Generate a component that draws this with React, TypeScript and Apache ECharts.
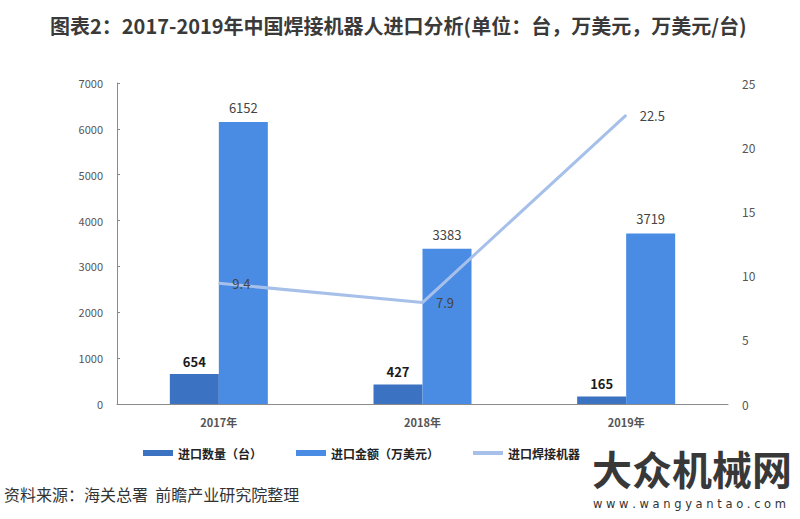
import React, { useEffect, useRef } from "react";
import * as echarts from "echarts";

const categories = ["2017年", "2018年", "2019年"];
const quantity = [654, 427, 165];
const amount = [6152, 3383, 3719];
const unitPrice = [9.4, 7.9, 22.5];
const leftTicks = [0, 7000, 1000];
const rightTicks = [0, 25, 5];
const seriesNames = ["进口数量（台）", "进口金额（万美元）", "进口焊接机器人单价（万美元/台）"];

const FONT = "'Noto Sans CJK SC', 'Noto Sans', sans-serif";

export default function App() {
  const ref = useRef<HTMLDivElement>(null);
  useEffect(() => {
    if (!ref.current) return;
    const chart = echarts.init(ref.current, null, { renderer: "svg" });
    chart.setOption({
      animation: false,
      backgroundColor: "#ffffff",
      textStyle: { fontFamily: FONT },
      grid: { left: 117, right: 72, top: 83, bottom: 115 },
      legend: {
        left: 138,
        top: 442,
        itemWidth: 30,
        itemHeight: 6,
        itemGap: 34,
        textStyle: { fontFamily: FONT, fontSize: 12, fontWeight: "bold", color: "#222" },
        data: [
          { name: seriesNames[0], icon: "rect" },
          { name: seriesNames[1], icon: "rect" },
          {
            name: seriesNames[2],
            icon: "path://M0,0 L30,0 L30,4 L0,4 Z",
            textStyle: { width: 76, overflow: "truncate", ellipsis: "" },
          },
        ],
      },
      xAxis: {
        type: "category",
        data: categories,
        axisLine: { lineStyle: { color: "#8a8a8a", width: 1 } },
        axisTick: { show: false },
        axisLabel: { color: "#555", fontSize: 11, fontWeight: "bold", margin: 12, fontFamily: FONT },
      },
      yAxis: [
        {
          type: "value",
          min: leftTicks[0],
          max: leftTicks[1],
          interval: leftTicks[2],
          axisLine: { show: true, lineStyle: { color: "#8a8a8a" } },
          axisTick: { show: true, inside: true, length: 3, lineStyle: { color: "#8a8a8a" } },
          splitLine: { show: false },
          axisLabel: { color: "#555", fontSize: 11, margin: 14, fontFamily: FONT, formatter: (v: number) => String(v) },
        },
        {
          type: "value",
          min: rightTicks[0],
          max: rightTicks[1],
          interval: rightTicks[2],
          axisLine: { show: false },
          axisTick: { show: false },
          splitLine: { show: false },
          axisLabel: { color: "#555", fontSize: 12, margin: 14, fontFamily: FONT },
        },
      ],
      series: [
        {
          name: seriesNames[0],
          type: "bar",
          data: quantity,
          barWidth: 49,
          barGap: "0%",
          itemStyle: { color: "#3b73c2" },
          label: { show: true, position: "top", distance: 6, color: "#1a1a1a", fontWeight: "bold", fontSize: 13, fontFamily: FONT },
        },
        {
          name: seriesNames[1],
          type: "bar",
          data: amount,
          barWidth: 49,
          barGap: "0%",
          itemStyle: { color: "#4a8ce3" },
          label: { show: true, position: "top", distance: 8, color: "#444", fontSize: 13, fontFamily: FONT },
        },
        {
          name: seriesNames[2],
          type: "line",
          yAxisIndex: 1,
          data: unitPrice,
          symbol: "circle",
          symbolSize: 1,
          showSymbol: true,
          lineStyle: { color: "#a6c0ea", width: 3 },
          itemStyle: { color: "#a6c0ea" },
          label: { show: true, position: "right", distance: 13, color: "#444", fontSize: 13, fontFamily: FONT },
          z: 5,
        },
      ],
      graphic: [
        {
          type: "text",
          left: 50,
          top: 15,
          style: {
            text: "图表2：2017-2019年中国焊接机器人进口分析(单位：台，万美元，万美元/台)",
            fontFamily: FONT,
            fontSize: 20,
            fontWeight: "bold",
            fill: "#3a3a3a",
          },
        },
        {
          type: "text",
          left: 592,
          top: 448,
          style: { text: "大众机械网", fontFamily: FONT, fontSize: 40, fontWeight: "bold", fill: "#383838" },
          z: 101,
        },
        {
          type: "text",
          left: 593,
          top: 498,
          style: { text: "w w w . w a n g y a n t a o . c o m", fontFamily: "'DejaVu Sans', sans-serif", fontSize: 11.5, fill: "#333333" },
          z: 101,
        },
        {
          type: "text",
          left: 4,
          top: 486,
          style: { text: "资料来源：海关总署  前瞻产业研究院整理", fontFamily: FONT, fontSize: 16, fill: "#333333" },
          z: 10,
        },
      ],
    });
    return () => chart.dispose();
  }, []);
  return <div ref={ref} style={{ width: 800, height: 519, position: "absolute", left: 0, top: 0 }} />;
}
